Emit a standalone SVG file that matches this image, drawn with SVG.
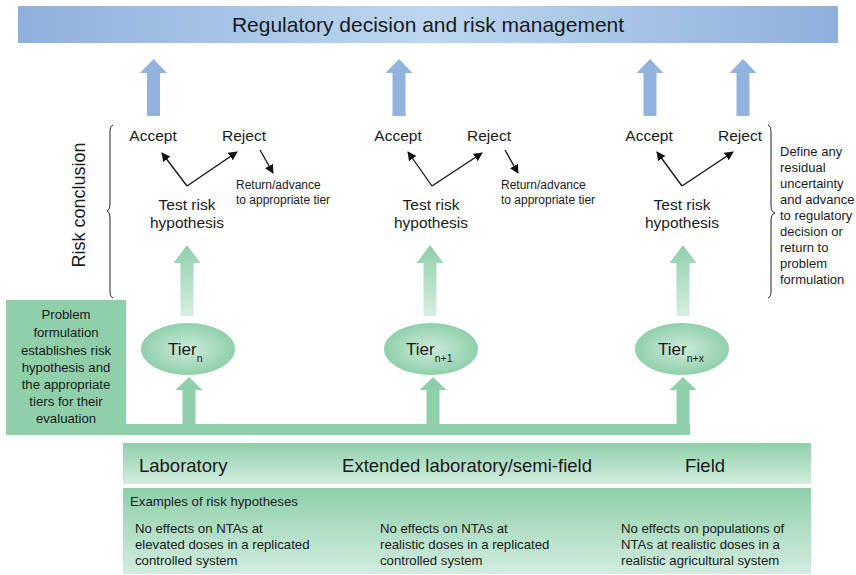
<svg xmlns="http://www.w3.org/2000/svg" width="856" height="575" viewBox="0 0 856 575">
<defs>
<linearGradient id="gBanner" x1="0" y1="0" x2="1" y2="0">
<stop offset="0" stop-color="#8fb0dc"/><stop offset="0.5" stop-color="#bcd7ef"/><stop offset="1" stop-color="#8fb0dc"/>
</linearGradient>
<linearGradient id="gUp" x1="0" y1="0" x2="0" y2="1">
<stop offset="0" stop-color="#8fcfaa"/><stop offset="1" stop-color="#d6eee2"/>
</linearGradient>
<linearGradient id="gBox" x1="0" y1="0" x2="0" y2="1">
<stop offset="0" stop-color="#8fcfaa"/><stop offset="1" stop-color="#d3ede0"/>
</linearGradient>
<radialGradient id="gTier" cx="0.5" cy="0.5" r="0.5">
<stop offset="0" stop-color="#cdeadb"/><stop offset="1" stop-color="#90d0ab"/>
</radialGradient>
<path id="blueArrow" d="M0,0 L13.5,14 L6.5,14 L6.5,57 L-6.5,57 L-6.5,14 L-13.5,14 Z"/>
<path id="upArrow" d="M0,0 L13.5,18 L6.5,18 L6.5,71 L-6.5,71 L-6.5,18 L-13.5,18 Z"/>
<path id="tierArrow" d="M0,0 L13.5,13 L6.5,13 L6.5,48 L-6.5,48 L-6.5,13 L-13.5,13 Z"/>
<marker id="ah" viewBox="0 0 10 10" refX="9" refY="5" markerWidth="9" markerHeight="9" markerUnits="userSpaceOnUse" orient="auto">
<path d="M0,0 L10,5 L0,10 Z" fill="#111"/>
</marker>
</defs>
<style>
text{font-family:"Liberation Sans",Arial,sans-serif;fill:#1a1a1a}
.ban{font-size:21px}
.ar{font-size:15.5px}
.sm{font-size:12px}
.rt{font-size:13px}
.pf{font-size:13.2px}
.tier{font-size:17px}
.sub{font-size:10.5px}
.hd{font-size:18.5px}
.ex{font-size:13.2px}
.blue{fill:#91b3dd}
.green{fill:#8fcfaa}
.conn{stroke:#111;stroke-width:1.3;fill:none}
.brace{stroke:#222;stroke-width:1;fill:none}
</style>
<rect width="856" height="575" fill="#ffffff"/>

<g id="banner">
<rect x="18" y="6" width="820" height="37" fill="url(#gBanner)"/>
<text class="ban" x="428" y="32" text-anchor="middle">Regulatory decision and risk management</text>
</g>

<g id="connectors">
<use href="#blueArrow" class="blue" x="153.5" y="59"/>
<use href="#blueArrow" class="blue" x="399" y="59"/>
<use href="#blueArrow" class="blue" x="650" y="59"/>
<use href="#blueArrow" class="blue" x="743" y="59"/>
<use href="#upArrow" fill="url(#gUp)" x="187" y="245"/>
<use href="#upArrow" fill="url(#gUp)" x="430" y="245"/>
<use href="#upArrow" fill="url(#gUp)" x="683" y="245"/>
<rect x="126" y="424" width="564" height="11" class="green"/>
<use href="#tierArrow" class="green" x="189" y="377"/>
<use href="#tierArrow" class="green" x="433" y="377"/>
<use href="#tierArrow" class="green" x="683" y="377"/>
<path class="conn" d="M187,186 L162,153" marker-end="url(#ah)"/>
<path class="conn" d="M187,186 L237,152" marker-end="url(#ah)"/>
<path class="conn" d="M260,150 L273,173" marker-end="url(#ah)"/>
<path class="conn" d="M432,186 L408,152" marker-end="url(#ah)"/>
<path class="conn" d="M432,186 L482,153" marker-end="url(#ah)"/>
<path class="conn" d="M505,150 L518,173" marker-end="url(#ah)"/>
<path class="conn" d="M682,186 L657,152" marker-end="url(#ah)"/>
<path class="conn" d="M682,186 L733,152" marker-end="url(#ah)"/>
</g>

<g id="risk-conclusion">
<text x="85" y="205" font-size="18" text-anchor="middle" transform="rotate(-90 85 205)">Risk conclusion</text>
<path class="brace" d="M113,125 Q110,126 110,132 L110,203 Q110,210 107,211 Q110,212 110,219 L110,291 Q110,297 113,298"/>
</g>

<g id="col1">
<text class="ar" x="153" y="141" text-anchor="middle">Accept</text>
<text class="ar" x="244" y="141" text-anchor="middle">Reject</text>
<text class="sm" x="236" y="189">Return/advance</text>
<text class="sm" x="236" y="204">to appropriate tier</text>
<text class="ar" x="187" y="210" text-anchor="middle">Test risk</text>
<text class="ar" x="187" y="228" text-anchor="middle">hypothesis</text>
</g>

<g id="col2">
<text class="ar" x="398" y="141" text-anchor="middle">Accept</text>
<text class="ar" x="489" y="141" text-anchor="middle">Reject</text>
<text class="sm" x="501" y="189">Return/advance</text>
<text class="sm" x="501" y="204">to appropriate tier</text>
<text class="ar" x="431" y="210" text-anchor="middle">Test risk</text>
<text class="ar" x="431" y="228" text-anchor="middle">hypothesis</text>
</g>

<g id="col3">
<text class="ar" x="649" y="141" text-anchor="middle">Accept</text>
<text class="ar" x="740" y="141" text-anchor="middle">Reject</text>
<text class="ar" x="682" y="210" text-anchor="middle">Test risk</text>
<text class="ar" x="682" y="228" text-anchor="middle">hypothesis</text>
</g>

<g id="residual">
<path class="brace" d="M768,125 Q771,126 771,132 L771,205 Q771,212 775,213 Q771,214 771,221 L771,291 Q771,297 768,298"/>
<text class="rt" x="780" y="156">Define any</text>
<text class="rt" x="780" y="172">residual</text>
<text class="rt" x="780" y="188">uncertainty</text>
<text class="rt" x="780" y="204">and advance</text>
<text class="rt" x="780" y="220">to regulatory</text>
<text class="rt" x="780" y="236">decision or</text>
<text class="rt" x="780" y="252">return to</text>
<text class="rt" x="780" y="268">problem</text>
<text class="rt" x="780" y="284">formulation</text>
</g>

<g id="problem-formulation">
<rect x="6" y="300" width="120" height="135" class="green"/>
<text class="pf" x="66" y="319" text-anchor="middle">Problem</text>
<text class="pf" x="66" y="337" text-anchor="middle">formulation</text>
<text class="pf" x="66" y="355" text-anchor="middle">establishes risk</text>
<text class="pf" x="66" y="372" text-anchor="middle">hypothesis and</text>
<text class="pf" x="66" y="389" text-anchor="middle">the appropriate</text>
<text class="pf" x="66" y="406" text-anchor="middle">tiers for their</text>
<text class="pf" x="66" y="423" text-anchor="middle">evaluation</text>
</g>

<g id="tier-n">
<ellipse cx="188" cy="349" rx="47" ry="26" fill="url(#gTier)"/>
<text class="tier" x="168" y="355">Tier<tspan class="sub" dy="7">n</tspan></text>
</g>
<g id="tier-n1">
<ellipse cx="431" cy="349" rx="47" ry="26" fill="url(#gTier)"/>
<text class="tier" x="406" y="355">Tier<tspan class="sub" dy="7">n+1</tspan></text>
</g>
<g id="tier-nx">
<ellipse cx="682" cy="349" rx="47" ry="26" fill="url(#gTier)"/>
<text class="tier" x="658" y="355">Tier<tspan class="sub" dy="7">n+x</tspan></text>
</g>

<g id="settings">
<rect x="123" y="443" width="688" height="41" fill="url(#gBox)"/>
<text class="hd" x="139" y="472">Laboratory</text>
<text class="hd" x="467" y="472" text-anchor="middle">Extended laboratory/semi-field</text>
<text class="hd" x="705" y="472" text-anchor="middle">Field</text>
</g>

<g id="examples">
<rect x="123" y="488" width="688" height="86" fill="url(#gBox)"/>
<text class="ex" x="130" y="506" font-size="12.5">Examples of risk hypotheses</text>
<text class="ex" x="135" y="533">No effects on NTAs at</text>
<text class="ex" x="135" y="549">elevated doses in a replicated</text>
<text class="ex" x="135" y="565">controlled system</text>
<text class="ex" x="380" y="533">No effects on NTAs at</text>
<text class="ex" x="380" y="549">realistic doses in a replicated</text>
<text class="ex" x="380" y="565">controlled system</text>
<text class="ex" x="621" y="533">No effects on populations of</text>
<text class="ex" x="621" y="549">NTAs at realistic doses in a</text>
<text class="ex" x="621" y="565">realistic agricultural system</text>
</g>
</svg>
